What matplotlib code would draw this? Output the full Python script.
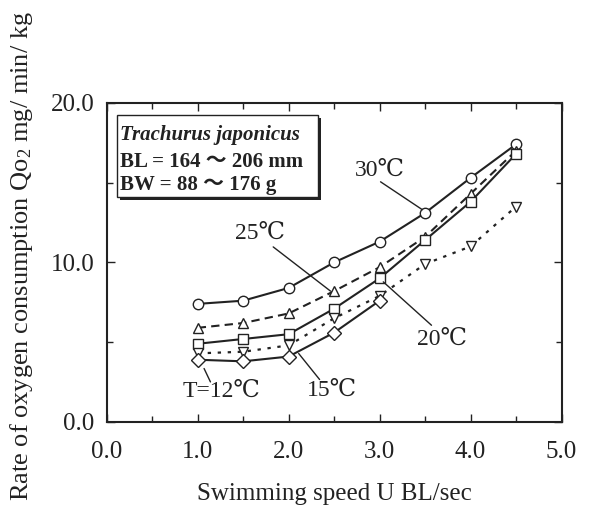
import matplotlib
matplotlib.use('Agg')
import matplotlib.pyplot as plt
from matplotlib.patches import Rectangle
from matplotlib.ticker import MultipleLocator

plt.rcParams['font.family'] = ['Liberation Serif', 'DejaVu Serif', 'Noto Sans CJK JP']
plt.rcParams['mathtext.fontset'] = 'stix'

# swimming speed (BL/sec) and oxygen consumption (mg/min/kg)
speed = [1.0, 1.5, 2.0, 2.5, 3.0, 3.5, 4.0, 4.5]
qo2_30 = [7.4, 7.6, 8.4, 10.0, 11.3, 13.1, 15.3, 17.4]
qo2_25 = [5.9, 6.2, 6.8, 8.2, 9.7, 11.6, 14.3, 17.0]
qo2_20 = [4.9, 5.2, 5.5, 7.1, 9.0, 11.4, 13.8, 16.8]
qo2_15 = [4.3, 4.4, 4.8, 6.5, 7.9, 9.9, 11.0, 13.5]
speed_12 = [1.0, 1.5, 2.0, 2.5, 3.0]
qo2_12 = [3.9, 3.8, 4.1, 5.6, 7.6]

fig = plt.figure(figsize=(5.93, 5.09), dpi=100)
ax = fig.add_axes([0.18, 0.171, 0.767, 0.627])

ink = '#222222'
mk = dict(markerfacecolor='white', markeredgecolor=ink, markersize=7.5,
          markeredgewidth=1.0, color=ink)
ax.plot(speed, qo2_30, '-', marker='o', lw=1.5, **mk)
ax.plot(speed, qo2_25, '--', marker='^', lw=1.5, dashes=(4, 2.5), **mk)
ax.plot(speed, qo2_20, '-', marker='s', lw=1.5, **mk)
ax.plot(speed, qo2_15, ':', marker='v', lw=1.6, dashes=(1.5, 3), **mk)
ax.plot(speed_12, qo2_12, '-', marker='D', lw=1.5, **{**mk, 'markersize': 7})

# temperature labels with leader lines
labels = [
    ('30℃', (3.00, 15.75), (3.01, 15.05), (3.47, 13.3)),
    ('25℃', (1.68, 11.8), (1.83, 10.97), (2.46, 8.2)),
    ('20℃', (3.69, 5.2), (3.04, 8.78), (3.57, 6.06)),
    ('15℃', (2.48, 2.0), (2.11, 4.29), (2.34, 2.66)),
    ('T=12℃', (1.26, 1.9), (1.07, 3.35), (1.14, 2.51)),
]
for txt, pos, p0, p1 in labels:
    ax.text(pos[0], pos[1], txt, fontsize=17, ha='center', va='center', color=ink)
    ax.annotate('', xy=p1, xytext=p0,
                arrowprops=dict(arrowstyle='-', lw=1.0, color=ink,
                                shrinkA=0, shrinkB=0))

# info box with shadow
ax.add_patch(Rectangle((0.029, 0.695), 0.442, 0.256, transform=ax.transAxes,
                       facecolor=ink, edgecolor='none', zorder=4))
ax.add_patch(Rectangle((0.022, 0.705), 0.442, 0.256, transform=ax.transAxes,
                       facecolor='white', edgecolor=ink, lw=1.0, zorder=5))
ax.text(0.030, 0.883, 'Trachurus japonicus', transform=ax.transAxes, fontsize=15,
        style='italic', weight='bold', va='baseline', zorder=6, color=ink)
ax.text(0.030, 0.799, 'BL = 164 〜 206 mm', transform=ax.transAxes, fontsize=15,
        weight='bold', va='baseline', zorder=6, color=ink)
ax.text(0.030, 0.727, 'BW = 88 〜 176 g', transform=ax.transAxes, fontsize=15,
        weight='bold', va='baseline', zorder=6, color=ink)

ax.set_xlim(0, 5)
ax.set_ylim(0, 20)
ax.xaxis.set_major_locator(MultipleLocator(1))
ax.xaxis.set_minor_locator(MultipleLocator(0.5))
ax.yaxis.set_major_locator(MultipleLocator(10))
ax.yaxis.set_minor_locator(MultipleLocator(5))
ax.xaxis.set_major_formatter(lambda v, p: f'{v:.1f}')
ax.yaxis.set_major_formatter(lambda v, p: f'{v:.1f}')
ax.tick_params(which='both', direction='in', top=True, right=True,
               labelsize=18, colors=ink, width=1.0)
ax.tick_params(which='major', length=6)
ax.tick_params(axis='x', which='major', pad=14)
ax.tick_params(axis='y', which='major', pad=9)
ax.tick_params(which='minor', length=4.5)
for s in ax.spines.values():
    s.set_linewidth(1.5)
    s.set_color(ink)

ax.set_xlabel('Swimming speed U BL/sec', fontsize=18, labelpad=14, color=ink)
fig.text(0.037, 0.497, 'Rate of oxygen consumption Q$\\mathregular{o_2}$ mg/ min/ kg',
         rotation=90, fontsize=19, ha='center', va='center', color=ink)

fig.savefig('out.png', dpi=100)
